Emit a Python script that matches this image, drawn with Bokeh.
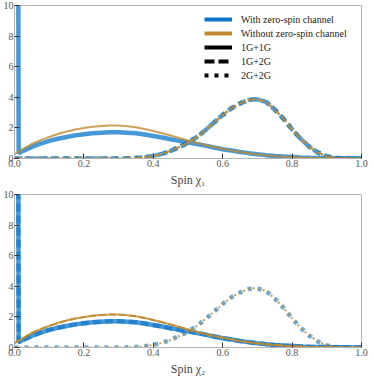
from bokeh.plotting import figure
from bokeh.layouts import column
from bokeh.models import ColumnDataSource, Legend, LegendItem, FixedTicker, CustomJSTickFormatter
from bokeh.embed import file_html
from bokeh.resources import INLINE

# ---- data ----
spike_x = [0.008, 0.012]
spike_y = [40.0, 0.35]

first_gen_x = [0.012, 0.025, 0.05, 0.075, 0.1, 0.125, 0.15, 0.175, 0.2, 0.225, 0.25, 0.275,
               0.3, 0.325, 0.35, 0.375, 0.4, 0.425, 0.45, 0.475, 0.5, 0.525, 0.55, 0.575,
               0.6, 0.625, 0.65, 0.675, 0.7, 0.725, 0.75, 0.775, 0.8, 0.825, 0.85, 0.875,
               0.9, 0.925, 0.95, 0.975, 1.0]
first_gen_with = [0.35, 0.5, 0.76, 0.97, 1.15, 1.29, 1.41, 1.51, 1.59, 1.65, 1.69, 1.71,
                  1.71, 1.69, 1.65, 1.57, 1.47, 1.37, 1.26, 1.15, 1.06, 0.95, 0.84, 0.72,
                  0.61, 0.52, 0.43, 0.35, 0.28, 0.22, 0.17, 0.13, 0.10, 0.07, 0.05, 0.035,
                  0.025, 0.015, 0.01, 0.005, 0.0]

first_gen_wo_x = [0.0, 0.025, 0.05, 0.075, 0.1, 0.125, 0.15, 0.175, 0.2, 0.225, 0.25, 0.275,
                  0.3, 0.325, 0.35, 0.375, 0.4, 0.425, 0.45, 0.475, 0.5, 0.525, 0.55, 0.575,
                  0.6, 0.625, 0.65, 0.675, 0.7, 0.725, 0.75, 0.775, 0.8, 0.825, 0.85, 0.875,
                  0.9, 0.925, 0.95, 0.975, 1.0]
first_gen_without = [0.28, 0.62, 0.95, 1.2, 1.41, 1.6, 1.76, 1.89, 1.99, 2.07, 2.13, 2.16,
                     2.15, 2.11, 2.04, 1.93, 1.8, 1.65, 1.5, 1.34, 1.18, 1.02, 0.88, 0.75,
                     0.64, 0.53, 0.43, 0.34, 0.27, 0.21, 0.16, 0.12, 0.09, 0.06, 0.04, 0.03,
                     0.02, 0.01, 0.005, 0.0, 0.0]

second_gen_x = [0.0, 0.3, 0.325, 0.35, 0.375, 0.4, 0.425, 0.45, 0.475, 0.5, 0.525, 0.55,
                0.575, 0.6, 0.625, 0.65, 0.675, 0.69, 0.7, 0.725, 0.75, 0.775, 0.8, 0.825,
                0.85, 0.875, 0.9, 0.925, 0.95, 1.0]
second_gen = [0.0, 0.0, 0.01, 0.03, 0.08, 0.17, 0.3, 0.5, 0.75, 1.03, 1.4, 1.85,
              2.35, 2.85, 3.28, 3.6, 3.82, 3.87, 3.86, 3.7, 3.2, 2.6, 1.9, 1.28,
              0.76, 0.38, 0.14, 0.03, 0.0, 0.0]

x_ticks = [0.0, 0.2, 0.4, 0.6, 0.8, 1.0]
y_ticks = [0, 2, 4, 6, 8, 10]
legend_labels = ["With zero-spin channel", "Without zero-spin channel", "1G+1G", "1G+2G", "2G+2G"]

BLUE = "#0a75c8"
ORANGE = "#c08a30"
FONT = "Liberation Serif"
DASH_B, DOT_B = "8 4", "4 6"
DASH_O, DOT_O = "7 3", "2 3"


def make_fig(xlabel):
    p = figure(frame_width=347, frame_height=153, x_range=(0, 1), y_range=(0, 10),
               output_backend="svg", toolbar_location=None,
               min_border_left=8, min_border_right=11, min_border_top=5, min_border_bottom=0)
    p.grid.visible = False
    p.outline_line_color = "#b5b5b5"
    p.outline_line_width = 1
    p.background_fill_color = "white"
    p.border_fill_color = "white"
    for ax in (p.xaxis[0], p.yaxis[0]):
        ax.axis_line_color = "#b5b5b5"
        ax.major_tick_in = 5
        ax.major_tick_out = 0
        ax.major_tick_line_color = "#333333"
        ax.minor_tick_line_color = None
        ax.major_label_text_font = FONT
        ax.major_label_text_font_size = "10px"
        ax.major_label_text_color = "#555555"
    p.xaxis.ticker = FixedTicker(ticks=x_ticks)
    p.xaxis.formatter = CustomJSTickFormatter(code="return tick.toFixed(1);")
    p.xaxis.major_label_standoff = 1
    p.yaxis.ticker = FixedTicker(ticks=y_ticks)
    p.yaxis.major_label_standoff = 1
    p.xaxis.axis_label = xlabel
    p.xaxis.axis_label_text_font = FONT
    p.xaxis.axis_label_text_font_size = "12px"
    p.xaxis.axis_label_text_font_style = "normal"
    p.xaxis.axis_label_text_color = "#444444"
    p.xaxis.axis_label_standoff = 3
    return p


# ---- top panel: spin chi_1 ----
p1 = make_fig("Spin \u03c7\u2081")
p1.line(spike_x + first_gen_x, spike_y + first_gen_with, line_color=BLUE, line_width=4.5, line_alpha=0.75)
p1.line(second_gen_x, second_gen, line_color=BLUE, line_width=4.5, line_alpha=0.75, line_dash=DASH_B)
p1.line(second_gen_x, second_gen, line_color=BLUE, line_width=4.5, line_alpha=0.6, line_dash=DOT_B)
p1.line(first_gen_wo_x, first_gen_without, line_color=ORANGE, line_width=2, line_alpha=0.8)
p1.line(second_gen_x, second_gen, line_color=ORANGE, line_width=2, line_alpha=0.85, line_dash=DASH_O)
p1.line(second_gen_x, second_gen, line_color=ORANGE, line_width=2, line_alpha=0.85, line_dash=DOT_O)

# legend-only renderers (a single NaN point, so nothing is drawn in the plot area)
def key(color, dash="solid"):
    src = ColumnDataSource(dict(x=[float("nan")], y=[float("nan")]))
    return p1.line("x", "y", source=src, line_color=color, line_width=4, line_dash=dash)

keys = [key(BLUE), key(ORANGE), key("black"), key("black", "10 4"), key("black", "4 6")]
legend = Legend(items=[LegendItem(label=l, renderers=[r]) for l, r in zip(legend_labels, keys)],
                location=(190, 77), border_line_color=None, background_fill_alpha=0,
                padding=0, margin=0, spacing=2, glyph_width=28, glyph_height=12,
                label_height=12, label_standoff=9, label_text_font=FONT,
                label_text_font_size="10px", label_text_color="#222222")
p1.add_layout(legend, "center")

# ---- bottom panel: spin chi_2 ----
p2 = make_fig("Spin \u03c7\u2082")
p2.line(spike_x + first_gen_x, spike_y + first_gen_with, line_color=BLUE, line_width=4.5, line_alpha=0.75)
p2.line(spike_x + first_gen_x, spike_y + first_gen_with, line_color=BLUE, line_width=4.5, line_alpha=0.6, line_dash=DASH_B)
p2.line(second_gen_x, second_gen, line_color=BLUE, line_width=4.5, line_alpha=0.6, line_dash=DOT_B)
p2.line(first_gen_wo_x, first_gen_without, line_color=ORANGE, line_width=2, line_alpha=0.8)
p2.line(first_gen_wo_x, first_gen_without, line_color=ORANGE, line_width=2, line_alpha=0.85, line_dash=DASH_O)
p2.line(second_gen_x, second_gen, line_color=ORANGE, line_width=2, line_alpha=0.85, line_dash=DOT_O)

layout = column(p1, p2, spacing=0)
open("out.html", "w").write(file_html(layout, INLINE))
